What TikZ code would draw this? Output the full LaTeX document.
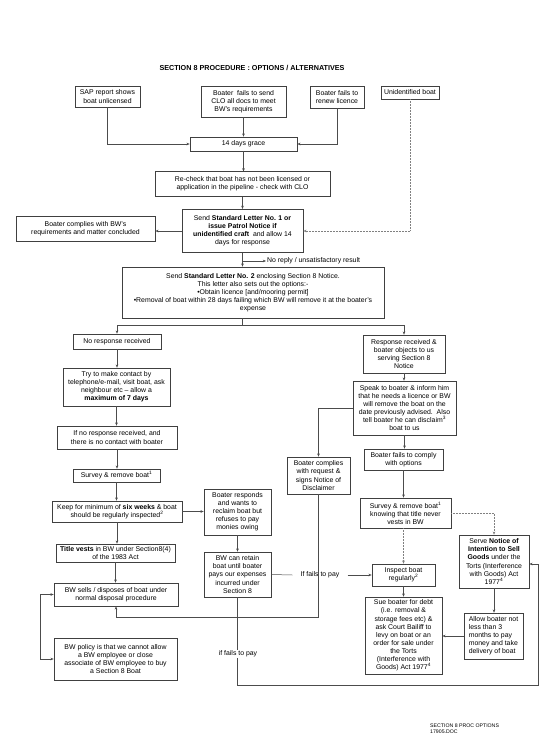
\documentclass[tikz,border=0pt]{standalone}
\usepackage{fontspec}
\setmainfont{Liberation Sans}
\usetikzlibrary{arrows.meta}
\begin{document}
\begin{tikzpicture}[x=1pt,y=-1pt,
  box/.style={draw=black!75, line width=0.6pt, inner sep=0.5pt, align=center, font=\fontsize{6.9}{8.1}\selectfont},
  wh/.style 2 args={minimum width=#1pt, minimum height=#2pt},
  ln/.style={draw=black!70, line width=0.5pt},
  arr/.style={ln, -{Stealth[length=3.2pt,width=2.6pt]}},
  garr/.style={arr, draw=black!50, densely dotted},
  darr/.style={ln, {Stealth[length=3.2pt,width=2.6pt]}-{Stealth[length=3.2pt,width=2.6pt]}},
  lbl/.style={inner sep=1pt, font=\fontsize{6.9}{8.1}\selectfont}
]
\useasboundingbox (0,0) rectangle (553,754);
\fill[white] (0,0) rectangle (553,754);

\node[font=\bfseries\fontsize{7.2}{8}\selectfont] (title) at (252,68) {SECTION 8 PROCEDURE : OPTIONS / ALTERNATIVES};

% top row
\node[box, wh={65}{21}] (sap) at (107.5,96.5) {SAP report shows\\boat unlicensed};
\node[box, wh={85}{31}] (send) at (243.5,101.5) {Boater\ \ fails to send\\CLO all docs to meet\\BW's requirements};
\node[box, wh={54}{22}] (renew) at (337,97) {Boater fails to\\renew licence};
\node[box, wh={58}{13}] (unid) at (410,92.5) {Unidentified boat};
\node[box, wh={107}{14}] (grace) at (243.5,144) {14 days grace};
\node[box, wh={175}{24.5}] (recheck) at (242.5,184) {Re-check that boat has not been licensed or\\application in the pipeline - check with CLO};
\node[box, wh={121}{43.5}] (l1) at (242.5,231) {Send \textbf{Standard Letter No. 1 or}\\\textbf{issue Patrol Notice if}\\\textbf{unidentified craft}\ \ and allow 14\\days for response};
\node[box, wh={139}{25}] (complies) at (85.5,228.5) {Boater complies with BW's\\requirements and matter concluded};
\node[lbl, anchor=west] (noreply) at (266,261) {No reply / unsatisfactory result};
\coordinate (nrs) at (243,261);
\node[box, wh={262}{51}] (l2) at (253,292.5) {Send \textbf{Standard Letter No. 2} enclosing Section 8 Notice.\\This letter also sets out the options:-\\•Obtain licence [and/mooring permit]\\•Removal of boat within 28 days failing which BW will remove it at the boater's\\expense};
\coordinate (l2b) at (242,318);
\coordinate (l2j) at (242,325);

% left column
\node[box, wh={88}{15}] (noresp) at (117,341.5) {No response received};
\node[box, wh={107}{38}] (try) at (116.5,387) {Try to make contact by\\telephone/e-mail, visit boat, ask\\neighbour etc -- allow a\\\textbf{maximum of 7 days}};
\node[box, wh={120}{23}] (ifno) at (117,437.5) {If no response received, and\\there is no contact with boater};
\node[box, wh={87}{13}] (survl) at (116.5,475.5) {Survey \& remove boat\textsuperscript{1}};
\node[box, wh={130}{21}] (keep) at (117,511.5) {Keep for minimum of \textbf{six weeks} \& boat\\should be regularly inspected\textsuperscript{2}};
\node[box, wh={119}{18}] (title) at (115.5,553) {\textbf{Title vests} in BW under Section8(4)\\of the 1983 Act};
\node[box, wh={124}{23}] (sells) at (116,594.5) {BW sells / disposes of boat under\\normal disposal procedure};
\node[box, wh={123}{42}] (policy) at (115.5,659) {BW policy is that we cannot allow\\a BW employee or close\\associate of BW employee to buy\\a Section 8 Boat};

% middle column
\node[box, wh={67}{46}] (responds) at (237.5,512) {Boater responds\\and wants to\\reclaim boat but\\refuses to pay\\monies owing};
\node[box, wh={67}{45}] (retain) at (237.5,574.5) {BW can retain\\boat until boater\\pays our expenses\\incurred under\\Section 8};
\node[box, wh={63}{37}] (disclaim) at (318.5,475.5) {Boater complies\\with request \&\\signs Notice of\\Disclaimer};

% right column
\node[box, wh={82}{38}] (resp) at (404,354) {Response received \&\\boater objects to us\\serving Section 8\\Notice};
\node[box, wh={103}{54}] (speak) at (404.5,408) {Speak to boater \& inform him\\that he needs a licence or BW\\will remove the boat on the\\date previously advised.\ \ Also\\tell boater he can disclaim\textsuperscript{3}\\boat to us};
\node[box, wh={79}{21}] (fails) at (403.5,459.5) {Boater fails to comply\\with options};
\node[box, wh={91}{30}] (survr) at (405.5,513) {Survey \& remove boat\textsuperscript{1}\\knowing that title never\\vests in BW};
\node[box, wh={70}{53}] (serve) at (494,561.5) {Serve \textbf{Notice of}\\\textbf{Intention to Sell}\\\textbf{Goods} under the\\Torts (Interference\\with Goods) Act\\1977\textsuperscript{4}};
\node[box, wh={63}{22}] (inspect) at (403.5,575) {Inspect boat\\regularly\textsuperscript{2}};
\node[box, wh={77}{77}] (sue) at (403.5,635.5) {Sue boater for debt\\(i.e. removal \&\\storage fees etc) \&\\ask Court Bailiff to\\levy on boat or an\\order for sale under\\the Torts\\(Interference with\\Goods) Act 1977\textsuperscript{4}};
\node[box, wh={59}{46}, align=left] (allow) at (493.5,636) {Allow boater not\\less than 3\\months to pay\\money and take\\delivery of boat};

\node[lbl, inner xsep=8pt] (mid) at (320,575) {If fails to pay};

% connectors top
\draw[arr] (sap.south) |- (grace.west);
\draw[arr] (send.south) -- (grace.north);
\draw[arr] (renew.south) |- (grace.east);
\draw[garr] (unid.south) |- (l1.east);
\draw[arr] (grace.south) -- (grace.south |- recheck.north);
\draw[arr] (recheck.south) -- (l1.north);
\draw[arr] (l1.west) -- (l1.west -| complies.east);
\draw[arr] (l1.south) -- (l1.south |- l2.north);
\draw[arr] (nrs) -- (noreply.west);
\draw[ln] (l2b) -- (l2j);
\draw[arr] (l2j) -| (noresp.north);
\draw[arr] (l2j) -| (resp.north);

% left column
\draw[arr] (noresp.south) -- (noresp.south |- try.north);
\draw[arr] (try.south) -- (try.south |- ifno.north);
\draw[arr] (ifno.south) -- (ifno.south |- survl.north);
\draw[arr] (survl.south) -- (survl.south |- keep.north);
\draw[arr] (keep.south) -- (keep.south |- title.north);
\draw[arr] (title.south) -- (title.south |- sells.north);
\draw[darr] (sells.west) -- ++(-13,0) |- (policy.west);
\draw[arr] (keep.east) -- (keep.east -| responds.west);

% middle
\draw[arr] (responds.south) -- (retain.north);
\draw[ln] (retain.east) -- (mid.west);
\draw[arr] (mid.east) -- (inspect.west);
\coordinate (lc1) at (237.5,685);
\coordinate (lc2) at (538,685);
\coordinate (lc3) at (538,564);
\draw[arr] (retain.south) -- (lc1) -- (lc2) -- (lc3) -- (lc3 -| serve.east);
\node[lbl, fill=white] (fails2) at (238,654) {if fails to pay};
\coordinate (dj) at (318.5,617);
\draw[arr] (disclaim.south) -- (dj) -| (sells.south);

% right column
\draw[arr] (resp.south) -- (resp.south |- speak.north);
\draw[arr] (speak.south) -- (speak.south |- fails.north);
\draw[arr] (speak.west) -| (disclaim.north);
\draw[arr] (fails.south) -- (fails.south |- survr.north);
\draw[garr] (fails.south |- survr.south) -- (fails.south |- inspect.north);
\draw[arr] (inspect.south) -- (inspect.south |- sue.north);
\draw[garr] (survr.east) -| (serve.north);
\draw[arr] (serve.south) -- (serve.south |- allow.north);
\draw[arr] (allow.west) -- (allow.west -| sue.east);

\node[anchor=north west, align=left, inner sep=0pt, font=\fontsize{5.2}{6}\selectfont] (foot) at (430,724) {SECTION 8 PROC OPTIONS\\17905.DOC};
\end{tikzpicture}
\end{document}
